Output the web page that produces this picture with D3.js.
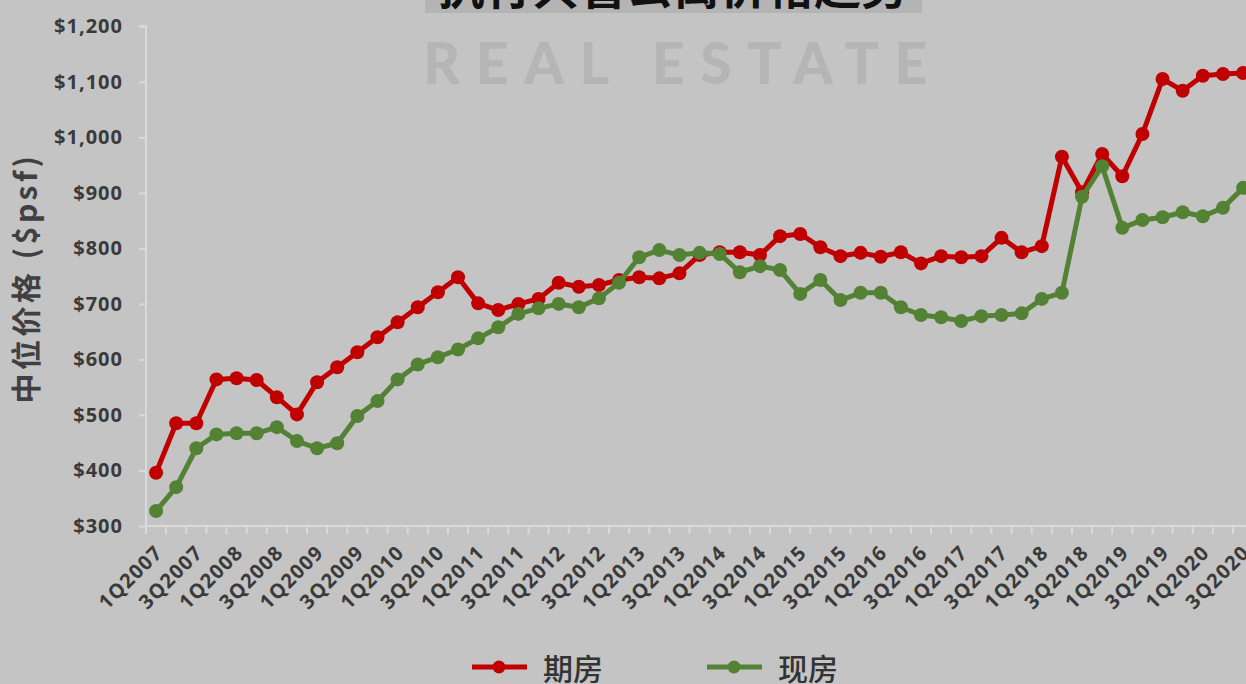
<!DOCTYPE html>
<html><head><meta charset="utf-8">
<script src="https://cdn.jsdelivr.net/npm/d3@7"></script>
<style>
html,body{margin:0;padding:0;background:#c4c4c4;}
svg{display:block;}
</style></head><body>
<svg id="c" width="1246" height="684"></svg>
<script>
const quarters = ["1Q","2Q","3Q","4Q"];
const categories = [];
for (let y = 2007; y <= 2020; y++) for (const q of quarters) { if (y === 2020 && q === "4Q") break; categories.push(q + y); }
const offPlan = [396,485,485,564,566,563,532,501,559,586,613,640,667,694,721,748,701,689,700,709,738,731,734,743,748,746,755,788,793,793,788,822,826,802,786,792,785,793,773,786,784,786,819,793,804,965,901,970,930,1006,1105,1084,1111,1114,1116];
const completed = [327,370,440,465,467,467,478,453,440,449,498,525,564,591,604,618,638,658,682,692,700,694,710,738,784,797,788,792,790,757,768,761,718,743,707,720,720,694,680,676,669,678,680,683,709,720,893,948,837,851,856,865,858,873,909];
const yTicks = [300,400,500,600,700,800,900,1000,1100,1200];
const seriesNames = ["期房","现房"];
const colors = ["#c00000","#548235"];
const title = "执行共管公寓价格趋势";
const yTitle = "中位价格 ($psf)";

const svg = d3.select("#c");
const font = "'Open Sans','Noto Sans CJK SC',sans-serif";
const cjk = "'Noto Sans CJK SC',sans-serif";

const x = d3.scaleBand().domain(categories).range([146, 146 + categories.length * 20.13]).padding(0);
const y = d3.scaleLinear().domain([300, 1200]).range([526, 26.3]);

// title
svg.append("rect").attr("x", 425).attr("y", -40).attr("width", 497).attr("height", 53).attr("fill", "#b4b4b4");
svg.append("text").attr("x", 673).attr("y", 4).attr("text-anchor", "middle")
  .attr("font-family", cjk).attr("font-weight", 700).attr("font-size", 47).attr("fill", "#111").text(title);

// watermark
svg.append("text").attr("x", 683).attr("y", 84).attr("text-anchor", "middle")
  .attr("font-family", "Lato, 'Open Sans', sans-serif").attr("font-weight", 900).attr("font-size", 57)
  .attr("letter-spacing", 15.5).attr("fill", "#b5b5b5").text("REAL ESTATE");

// y axis
const yAxis = svg.append("g").attr("transform", "translate(146,0)")
  .call(d3.axisLeft(y).tickValues(yTicks).tickSize(7).tickPadding(16).tickFormat(d => "$" + d3.format(",")(d)));
yAxis.selectAll("path,line").attr("stroke", "#dadada").attr("stroke-width", 2);
yAxis.select(".domain").attr("d", `M-7,${y(1200)}H0V${y(300)}`);
yAxis.selectAll("text").attr("font-family", font).attr("font-weight", 700).attr("font-size", 20)
  .attr("letter-spacing", 1).attr("fill", "#3a3a3a");

// x axis
const xAxis = svg.append("g").attr("transform", "translate(0,526)");
xAxis.append("line").attr("x1", 146).attr("x2", 1246).attr("y1", 0).attr("y2", 0).attr("stroke", "#dadada").attr("stroke-width", 2);
xAxis.selectAll("line.t").data(categories.concat(["end"])).join("line").attr("class", "t")
  .attr("x1", (d, i) => 146 + i * x.bandwidth()).attr("x2", (d, i) => 146 + i * x.bandwidth())
  .attr("y1", 0).attr("y2", 8).attr("stroke", "#dadada").attr("stroke-width", 2);
xAxis.selectAll("text").data(categories.filter((d, i) => i % 2 === 0)).join("text")
  .attr("transform", d => `translate(${x(d) + x.bandwidth() / 2 + 4},${24}) rotate(-45)`)
  .attr("text-anchor", "end").attr("dominant-baseline", "middle")
  .attr("font-family", font).attr("font-weight", 700).attr("font-size", 20).attr("letter-spacing", 1.2)
  .attr("fill", "#3a3a3a").text(d => d);

// y title
svg.append("text").attr("transform", "translate(37,278) rotate(-90)").attr("text-anchor", "middle")
  .attr("font-family", cjk).attr("font-weight", 700).attr("font-size", 30).attr("letter-spacing", 3.5)
  .attr("fill", "#404040").text(yTitle);

// series
const cx = d => x(d) + x.bandwidth() / 2;
[offPlan, completed].forEach((vals, si) => {
  const g = svg.append("g");
  const line = d3.line().x((d, i) => cx(categories[i])).y(d => y(d));
  g.append("path").attr("d", line(vals)).attr("fill", "none").attr("stroke", colors[si]).attr("stroke-width", 5).attr("stroke-linejoin", "round");
  g.selectAll("circle").data(vals).join("circle").attr("cx", (d, i) => cx(categories[i])).attr("cy", d => y(d)).attr("r", 7).attr("fill", colors[si]);
});

// legend
const leg = [[472, 543], [707, 778]];
seriesNames.forEach((n, i) => {
  const g = svg.append("g");
  g.append("line").attr("x1", leg[i][0]).attr("x2", leg[i][0] + 55).attr("y1", 667).attr("y2", 667).attr("stroke", colors[i]).attr("stroke-width", 5);
  g.append("circle").attr("cx", leg[i][0] + 27).attr("cy", 667).attr("r", 6.5).attr("fill", colors[i]);
  g.append("text").attr("x", leg[i][1]).attr("y", 667).attr("dominant-baseline", "central")
    .attr("font-family", cjk).attr("font-weight", 500).attr("font-size", 30).attr("fill", "#333").text(n);
});
</script>
</body></html>
